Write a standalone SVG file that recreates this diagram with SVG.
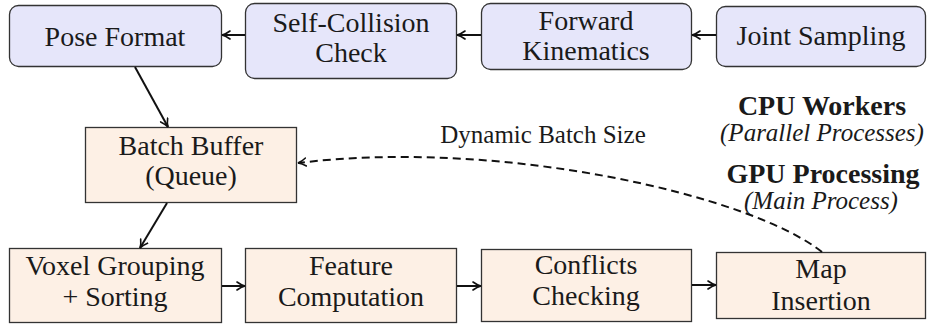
<svg xmlns="http://www.w3.org/2000/svg" width="928" height="327" viewBox="0 0 928 327">
  <defs>
    <marker id="arrow" viewBox="0 0 10 10" refX="9" refY="5" markerWidth="10" markerHeight="10" markerUnits="userSpaceOnUse" orient="auto">
      <path d="M1,1 Q5,4 9,5 Q5,6 1,9" fill="none" stroke="#111111" stroke-width="1.6" stroke-linecap="round"/>
    </marker>
  </defs>

  <!-- CPU worker stages (top row): lavender rounded boxes -->
  <g fill="#e6e6fa" stroke="#333333" stroke-width="1.3">
    <g id="pose-format">
      <rect x="9.5" y="5.5" width="212" height="61" rx="9"/>
    </g>
    <g id="self-collision">
      <rect x="245.5" y="3.5" width="211" height="75" rx="9"/>
    </g>
    <g id="forward-kinematics">
      <rect x="481.5" y="3.5" width="210" height="66" rx="9"/>
    </g>
    <g id="joint-sampling">
      <rect x="716.5" y="6.5" width="209" height="60" rx="9"/>
    </g>
  </g>

  <!-- GPU stages: peach square boxes -->
  <g fill="#fdf0e5" stroke="#333333" stroke-width="1.3">
    <g id="batch-buffer">
      <rect x="85.5" y="127.5" width="211" height="75"/>
    </g>
    <g id="voxel-grouping">
      <rect x="9.5" y="248.5" width="212" height="74"/>
    </g>
    <g id="feature-computation">
      <rect x="245.5" y="248.5" width="211" height="74"/>
    </g>
    <g id="conflicts-checking">
      <rect x="481.5" y="249.5" width="210" height="72"/>
    </g>
    <g id="map-insertion">
      <rect x="716.5" y="252.5" width="209" height="66"/>
    </g>
  </g>

  <!-- Box labels -->
  <g id="box-labels" fill="#1a1a1a" text-anchor="middle">
    <text x="115" y="46" style="font-family:'Liberation Serif'; font-size:28px">Pose Format</text>
    <text x="351" y="32" style="font-family:'Liberation Serif'; font-size:28px">Self-Collision</text>
    <text x="351" y="62" style="font-family:'Liberation Serif'; font-size:28px">Check</text>
    <text x="586" y="30" style="font-family:'Liberation Serif'; font-size:28px">Forward</text>
    <text x="586" y="60" style="font-family:'Liberation Serif'; font-size:28px">Kinematics</text>
    <text x="821" y="45" style="font-family:'Liberation Serif'; font-size:28px">Joint Sampling</text>
    <text x="191" y="155" style="font-family:'Liberation Serif'; font-size:28px">Batch Buffer</text>
    <text x="191" y="185" style="font-family:'Liberation Serif'; font-size:28px">(Queue)</text>
    <text x="115" y="275" style="font-family:'Liberation Serif'; font-size:28px">Voxel Grouping</text>
    <text x="115" y="306" style="font-family:'Liberation Serif'; font-size:28px">+ Sorting</text>
    <text x="351" y="275" style="font-family:'Liberation Serif'; font-size:28px">Feature</text>
    <text x="351" y="306" style="font-family:'Liberation Serif'; font-size:28px">Computation</text>
    <text x="586" y="274" style="font-family:'Liberation Serif'; font-size:28px">Conflicts</text>
    <text x="586" y="305" style="font-family:'Liberation Serif'; font-size:28px">Checking</text>
    <text x="821" y="278" style="font-family:'Liberation Serif'; font-size:28px">Map</text>
    <text x="821" y="310" style="font-family:'Liberation Serif'; font-size:28px">Insertion</text>
  </g>

  <!-- Section labels -->
  <g id="legend" fill="#1a1a1a" text-anchor="middle">
    <text x="822" y="115" style="font-family:'Liberation Serif'; font-size:28px; font-weight:bold">CPU Workers</text>
    <text x="822" y="141" style="font-family:'Liberation Serif'; font-size:25px; font-style:italic">(Parallel Processes)</text>
    <text x="823" y="183" style="font-family:'Liberation Serif'; font-size:28px; font-weight:bold">GPU Processing</text>
    <text x="821" y="209" style="font-family:'Liberation Serif'; font-size:25px; font-style:italic">(Main Process)</text>
  </g>

  <!-- Connectors -->
  <g id="connectors" fill="none" stroke="#111111" stroke-width="2" marker-end="url(#arrow)">
    <path d="M245,35 L222,35"/>
    <path d="M481,35 L457,35"/>
    <path d="M716,35 L692,35"/>
    <path d="M135,67 L168,127"/>
    <path d="M167,203 L140,248"/>
    <path d="M222,286 L245,286"/>
    <path d="M457,286 L481,286"/>
    <path d="M692,285 L716,285"/>
    <path d="M822,252 C750,195 500,138 298,163" stroke-dasharray="8 5"/>
  </g>
  <text x="543" y="143" fill="#1a1a1a" text-anchor="middle" style="font-family:'Liberation Serif'; font-size:25px">Dynamic Batch Size</text>
</svg>
